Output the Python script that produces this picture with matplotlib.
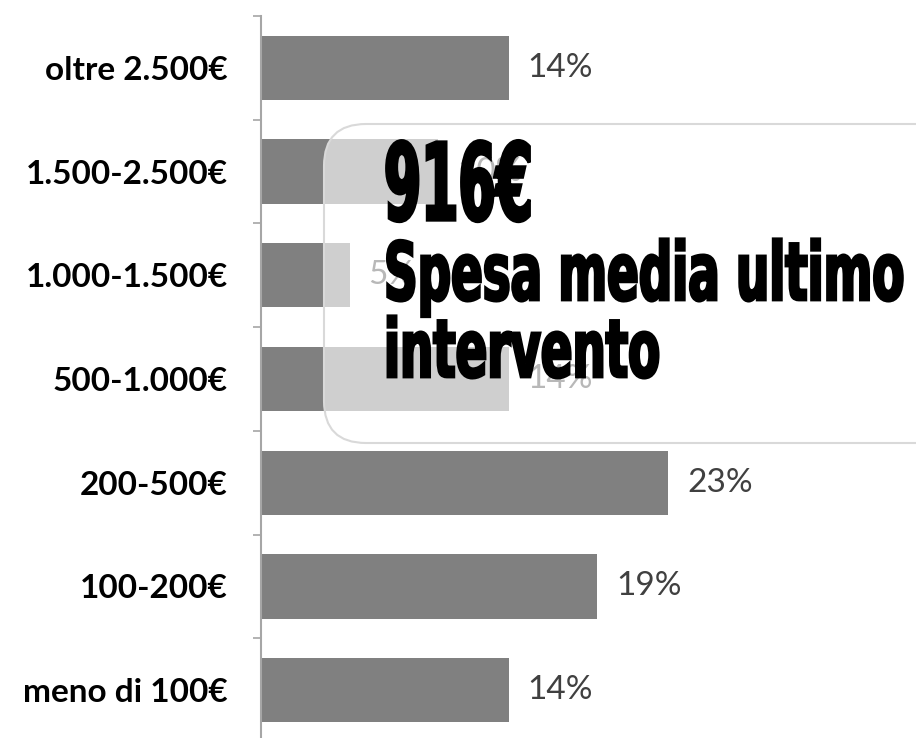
import matplotlib
matplotlib.use('Agg')
import matplotlib.pyplot as plt
from matplotlib.patches import FancyBboxPatch
from matplotlib.patheffects import AbstractPathEffect
from matplotlib.transforms import Affine2D
import numpy as np

# data (bottom to top)
categories = ['meno di 100€', '100-200€', '200-500€', '500-1.000€',
              '1.000-1.500€', '1.500-2.500€', 'oltre 2.500€']
values = [14, 19, 23, 14, 5, 10, 14]
labels = ['14%', '19%', '23%', '14%', '5%', '10%', '14%']

big_value = '916€'
big_caption = ['Spesa media ultimo', 'intervento']


class Condense(AbstractPathEffect):
    # squeeze text horizontally (and thicken it) to mimic a condensed display face
    def __init__(self, sx, stroke=0.0):
        super().__init__()
        self.sx = sx
        self.stroke = stroke

    def draw_path(self, renderer, gc, tpath, affine, rgbFace=None):
        aff = Affine2D().scale(self.sx, 1) + affine
        gc0 = renderer.new_gc()
        gc0.copy_properties(gc)
        if self.stroke > 0 and rgbFace is not None:
            gc0.set_linewidth(self.stroke)
            gc0.set_foreground(rgbFace)
            gc0.set_joinstyle('miter')
        renderer.draw_path(gc0, tpath, aff, rgbFace)
        gc0.restore()


plt.rc('font', family=['Lato', 'DejaVu Sans'])

fig = plt.figure(figsize=(9.16, 7.38), dpi=100)
ax = fig.add_axes([261/916, -4/738, 1 - 261/916, 726/738])

y = np.arange(len(categories))
ax.barh(y, values, height=0.62, color='#808080', zorder=2)
for yi, v, lab in zip(y, values, labels):
    ax.annotate(lab, (v, yi), xytext=(19, 0), textcoords='offset pixels',
                va='center', ha='left', fontsize=24, color='#404040')

ax.set_xlim(0, 655/17.7)
ax.set_ylim(-0.5, len(categories) - 0.5)
ax.set_yticks(y)
ax.set_yticklabels(categories, fontsize=24, fontweight='bold')
ax.set_yticks(np.arange(-0.5, len(categories)), minor=True)
ax.tick_params(axis='y', which='major', length=0, pad=24)
ax.tick_params(axis='y', which='minor', length=6, width=1.2, color='#a6a6a6',
               direction='out')
ax.set_xticks([])
for s in ['top', 'right', 'bottom']:
    ax.spines[s].set_visible(False)
ax.spines['left'].set_color('#a6a6a6')
ax.spines['left'].set_linewidth(1.5)

# overlay box with the average spend
box = FancyBboxPatch((3.24, 2.95), 8.0, 3.19,
                     boxstyle='round,pad=0,rounding_size=0.42',
                     transform=fig.dpi_scale_trans, clip_on=False,
                     facecolor=(1, 1, 1, 0.63), edgecolor='#d9d9d9',
                     linewidth=1.5, zorder=5)
ax.add_patch(box)

heavy = dict(family='DejaVu Sans', fontweight='bold',
             color='black', ha='left', va='baseline', zorder=6)
fig.text(3.84/9.16, 1 - 220/738, big_value, fontsize=77,
         path_effects=[Condense(0.50, stroke=2.4)], **heavy)
fig.text(3.84/9.16, 1 - 300/738, big_caption[0], fontsize=58,
         path_effects=[Condense(0.58, stroke=2.0)], **heavy)
fig.text(3.84/9.16, 1 - 377/738, big_caption[1], fontsize=58,
         path_effects=[Condense(0.58, stroke=2.0)], **heavy)

fig.savefig('out.png', dpi=100)
